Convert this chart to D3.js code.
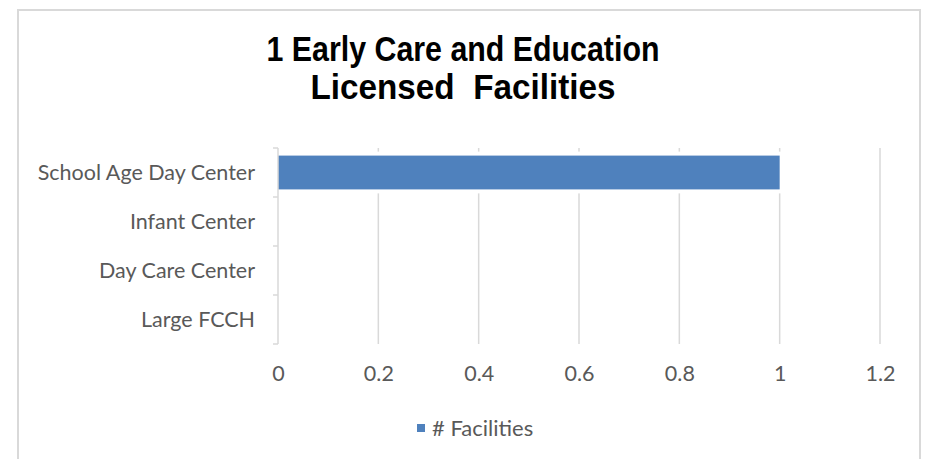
<!DOCTYPE html>
<html>
<head>
<meta charset="utf-8">
<script src="https://cdn.jsdelivr.net/npm/d3@7"></script>
<style>
  body { margin: 0; background: #fff; }
  .catLabel, .tickLabel, .legendText { font-family: Lato, 'Open Sans', sans-serif; fill: #595959; }
  .chartTitle { font-family: 'Liberation Sans Narrow', 'Arial Narrow', 'Liberation Sans', sans-serif; font-weight: bold; fill: #000; }
</style>
</head>
<body>
<svg class="svgChart"></svg>
<script>
// chart data
const categories = ['School Age Day Center', 'Infant Center', 'Day Care Center', 'Large FCCH'];
const facilities = [1, 0, 0, 0];
const xTicks = [0, 0.2, 0.4, 0.6, 0.8, 1, 1.2];
const titleLines = ['1 Early Care and Education', 'Licensed  Facilities'];
const seriesName = '# Facilities';

const W = 926;
const H = 459;
const margin = { top: 148, right: 46, bottom: 115, left: 278 };
const width = W - margin.left - margin.right;
const height = H - margin.top - margin.bottom;

const barColor = '#4f81bd';
const gridColor = '#d9d9d9';
const labelSize = 21.5;

const svg = d3.select('.svgChart')
  .attr('width', W)
  .attr('height', H);

svg.append('rect')
  .attr('width', W)
  .attr('height', H)
  .attr('fill', '#fff');

// chart area border (open at the bottom)
svg.append('path')
  .attr('d', 'M18,' + H + 'V10H920V' + H)
  .attr('fill', 'none')
  .attr('stroke', gridColor)
  .attr('stroke-width', 2);

// title - narrow bold face, squeezed to the original line widths
const titleWidths = [393, 305];
svg.append('g')
  .selectAll('text')
  .data(titleLines)
  .enter()
  .append('text')
    .attr('class', 'chartTitle')
    .attr('x', 463)
    .attr('y', (d, i) => 61 + i * 38)
    .attr('text-anchor', 'middle')
    .attr('font-size', 35)
    .attr('textLength', (d, i) => titleWidths[i])
    .attr('lengthAdjust', 'spacingAndGlyphs')
    .style('white-space', 'pre')
    .text(d => d);

const xScale = d3.scaleLinear()
  .domain([0, 1.2])
  .range([0, width]);

const yScale = d3.scaleBand()
  .domain(categories)
  .range([0, height])
  .paddingInner(0.31)
  .paddingOuter(0.155);

const g = svg.append('g')
  .attr('transform', `translate(${margin.left},${margin.top})`);

// gridlines
g.append('g')
  .selectAll('line')
  .data(xTicks.slice(1))
  .enter()
  .append('line')
    .attr('x1', d => xScale(d))
    .attr('x2', d => xScale(d))
    .attr('y1', 0)
    .attr('y2', height)
    .attr('stroke', gridColor)
    .attr('stroke-width', 1.5);

// bars - white halo hides the gridlines around the bar like Excel does
g.append('g')
  .selectAll('rect')
  .data(categories.map((c, i) => ({ cat: c, val: facilities[i] })).filter(d => d.val > 0))
  .enter()
  .append('rect')
    .attr('x', xScale(0))
    .attr('y', d => yScale(d.cat))
    .attr('width', d => xScale(d.val) - xScale(0))
    .attr('height', yScale.bandwidth())
    .attr('fill', barColor)
    .attr('stroke', '#fff')
    .attr('stroke-width', 8)
    .style('paint-order', 'stroke');

// category axis
const yAxis = d3.axisLeft(yScale)
  .tickSize(0)
  .tickPadding(23);
const yAxisG = g.append('g').call(yAxis);
yAxisG.select('.domain').remove();
yAxisG.selectAll('text')
  .attr('class', 'catLabel')
  .attr('font-size', labelSize)
  .attr('dy', '0.35em');

g.append('line')
  .attr('x1', 0).attr('x2', 0)
  .attr('y1', 0).attr('y2', height)
  .attr('stroke', gridColor)
  .attr('stroke-width', 1.5);

// tick marks between categories
const bounds = categories.map(c => yScale(c) - yScale.step() * 0.155).concat([height]);
g.append('g')
  .selectAll('line')
  .data(bounds)
  .enter()
  .append('line')
    .attr('x1', -5).attr('x2', 0)
    .attr('y1', d => d).attr('y2', d => d)
    .attr('stroke', gridColor)
    .attr('stroke-width', 1.5);

// value axis labels
const xAxis = d3.axisBottom(xScale)
  .tickValues(xTicks)
  .tickSize(0)
  .tickPadding(22)
  .tickFormat(d => String(d));
const xAxisG = g.append('g')
  .attr('transform', `translate(0,${height})`)
  .call(xAxis);
xAxisG.select('.domain').remove();
xAxisG.selectAll('text')
  .attr('class', 'tickLabel')
  .attr('font-size', labelSize);

// legend
const legend = svg.append('g')
  .attr('transform', 'translate(417,424)');
legend.append('rect')
  .attr('width', 8)
  .attr('height', 8)
  .attr('fill', barColor);
legend.append('text')
  .attr('class', 'legendText')
  .attr('x', 15)
  .attr('y', 4)
  .attr('dy', '0.35em')
  .attr('font-size', 22)
  .text(seriesName);
</script>
</body>
</html>
